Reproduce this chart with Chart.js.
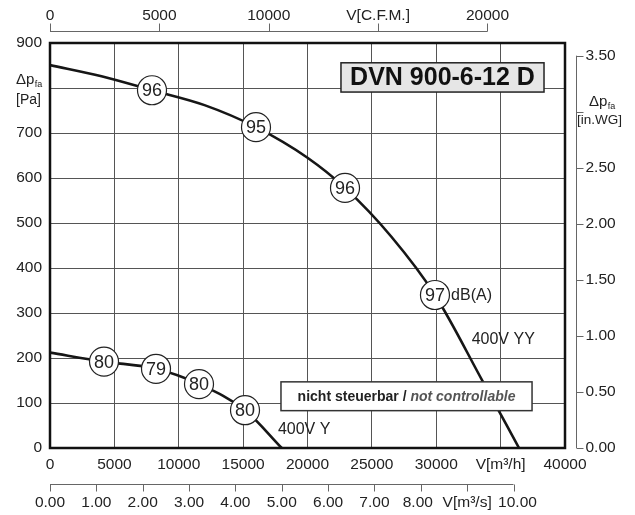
<!DOCTYPE html>
<html>
<head>
<meta charset="utf-8">
<script src="https://cdn.jsdelivr.net/npm/chart.js@4/dist/chart.umd.min.js"></script>
<style>
  html, body { margin: 0; padding: 0; background: #fff; }
  #wrap { width: 635px; height: 515px; }
</style>
</head>
<body>
<div id="wrap"><canvas id="fan" width="635" height="515"></canvas></div>
<script>
// 400V YY curve, flow in m3/h and static pressure in Pa
const yyFlow = [0, 4000, 7922, 12000, 16000, 20000, 22913, 26500, 29900, 33630, 36430];
const yyPressure = [851, 826, 795, 762, 713, 645, 578, 470, 340, 147, 0];
// 400V Y curve
const yFlow = [0, 4194, 8233, 11573, 15146, 18000];
const yPressure = [212, 192, 176, 142, 84, 0];

// sound level markers dB(A)
const yyMarkFlow = [7922, 16000, 22913, 29900];
const yyMarkPressure = [795, 713, 578, 340];
const yyMarkLabels = ['96', '95', '96', '97'];
const yMarkFlow = [4194, 8233, 11573, 15146];
const yMarkPressure = [192, 176, 142, 84];
const yMarkLabels = ['80', '79', '80', '80'];

// secondary axes
const cfmTicks = [0, 5000, 10000, 15000, 20000];
const cfmLabels = ['0', '5000', '10000', 'V[C.F.M.]', '20000'];
const m3sTicks = [0, 1, 2, 3, 4, 5, 6, 7, 8, 9, 10];
const m3sLabels = ['0.00', '1.00', '2.00', '3.00', '4.00', '5.00', '6.00', '7.00', '8.00', 'V[m³/s]', '10.00'];
const inwgTicks = [0, 0.5, 1, 1.5, 2, 2.5, 3, 3.5];
const inwgLabels = ['0.00', '0.50', '1.00', '1.50', '2.00', '2.50', '', '3.50'];

const CFM_TO_M3H = 1.69901;
const INWG_TO_PA = 249.089;
const FONT = '"Liberation Sans", Arial, Helvetica, sans-serif';
const TXT = '#222';

const pts = (xs, ys) => xs.map((v, i) => ({ x: v, y: ys[i] }));

function subLabel(ctx, x, y, main, sub, size) {
    // draws "Δp" with a small subscript, x is left edge
    ctx.textAlign = 'left';
    ctx.textBaseline = 'middle';
    ctx.font = size + 'px ' + FONT;
    ctx.fillText(main, x, y);
    const w = ctx.measureText(main).width;
    ctx.font = (size * 0.6) + 'px ' + FONT;
    ctx.fillText(sub, x + w + 0.5, y + size * 0.3);
}

const overlay = {
    id: 'overlay',
    afterDatasetsDraw(chart) {
        const { ctx, chartArea: a, scales: { x, y } } = chart;
        ctx.save();

        // plot frame
        ctx.strokeStyle = '#111';
        ctx.lineWidth = 2.5;
        ctx.strokeRect(a.left, a.top, a.right - a.left, a.bottom - a.top);

        // numbers inside the circles
        ctx.fillStyle = TXT;
        ctx.font = '18px ' + FONT;
        ctx.textAlign = 'center';
        ctx.textBaseline = 'middle';
        yyMarkFlow.forEach((f, i) => {
            ctx.fillText(yyMarkLabels[i], x.getPixelForValue(f), y.getPixelForValue(yyMarkPressure[i]) + 1);
        });
        yMarkFlow.forEach((f, i) => {
            ctx.fillText(yMarkLabels[i], x.getPixelForValue(f), y.getPixelForValue(yMarkPressure[i]) + 1);
        });

        // curve annotations
        ctx.font = '16px ' + FONT;
        ctx.textAlign = 'left';
        ctx.fillText('dB(A)', x.getPixelForValue(31150), y.getPixelForValue(338));
        ctx.fillText('400V YY', x.getPixelForValue(32750), y.getPixelForValue(242));
        ctx.fillText('400V Y', x.getPixelForValue(17700), y.getPixelForValue(40));

        // type box
        let l = x.getPixelForValue(22600), r = x.getPixelForValue(38370);
        let t = y.getPixelForValue(856), b = y.getPixelForValue(791);
        ctx.fillStyle = '#e6e6e6';
        ctx.fillRect(l, t, r - l, b - t);
        ctx.strokeStyle = '#222';
        ctx.lineWidth = 1.5;
        ctx.strokeRect(l, t, r - l, b - t);
        ctx.fillStyle = '#111';
        ctx.font = 'bold 25px ' + FONT;
        ctx.textAlign = 'center';
        ctx.fillText('DVN 900-6-12 D', (l + r) / 2, (t + b) / 2 + 1);

        // "not controllable" box
        l = x.getPixelForValue(17940); r = x.getPixelForValue(37440);
        t = y.getPixelForValue(147); b = y.getPixelForValue(83);
        ctx.fillStyle = '#fff';
        ctx.fillRect(l, t, r - l, b - t);
        ctx.strokeStyle = '#333';
        ctx.lineWidth = 1.5;
        ctx.strokeRect(l, t, r - l, b - t);
        const part1 = 'nicht steuerbar / ';
        const part2 = 'not controllable';
        ctx.font = 'bold 14px ' + FONT;
        const w1 = ctx.measureText(part1).width;
        ctx.font = 'italic bold 14px ' + FONT;
        const w2 = ctx.measureText(part2).width;
        const sx = (l + r) / 2 - (w1 + w2) / 2;
        ctx.textAlign = 'left';
        ctx.fillStyle = '#222';
        ctx.font = 'bold 14px ' + FONT;
        ctx.fillText(part1, sx, (t + b) / 2 + 1);
        ctx.fillStyle = '#555';
        ctx.font = 'italic bold 14px ' + FONT;
        ctx.fillText(part2, sx + w1, (t + b) / 2 + 1);

        ctx.restore();
    },
    afterDraw(chart) {
        const { ctx, chartArea: a, scales: { x, y } } = chart;
        ctx.save();
        ctx.fillStyle = TXT;
        ctx.strokeStyle = '#666';
        ctx.lineWidth = 1;

        // left axis unit label (in place of 800)
        const y800 = y.getPixelForValue(800);
        ctx.fillStyle = TXT;
        subLabel(ctx, 16, y800 - 8, 'Δp', 'fa', 15);
        ctx.font = '14px ' + FONT;
        ctx.textAlign = 'left';
        ctx.fillText('[Pa]', 16, y800 + 12);

        // top axis, C.F.M.
        const topY = a.top - 11.5;
        const cfmEnd = x.getPixelForValue(cfmTicks[cfmTicks.length - 1] * CFM_TO_M3H);
        ctx.beginPath();
        ctx.moveTo(a.left, topY);
        ctx.lineTo(cfmEnd, topY);
        cfmTicks.forEach(v => {
            const px = Math.round(x.getPixelForValue(v * CFM_TO_M3H)) + 0.5;
            ctx.moveTo(px, topY);
            ctx.lineTo(px, topY - 8);
        });
        ctx.stroke();
        ctx.font = '15.5px ' + FONT;
        ctx.textAlign = 'center';
        ctx.textBaseline = 'middle';
        cfmTicks.forEach((v, i) => {
            ctx.fillText(cfmLabels[i], x.getPixelForValue(v * CFM_TO_M3H), 16);
        });

        // bottom axis, m3/s
        const botY = a.bottom + 36.5;
        ctx.beginPath();
        ctx.moveTo(a.left, botY);
        ctx.lineTo(x.getPixelForValue(m3sTicks[m3sTicks.length - 1] * 3600), botY);
        m3sTicks.forEach(v => {
            const px = Math.round(x.getPixelForValue(v * 3600)) + 0.5;
            ctx.moveTo(px, botY);
            ctx.lineTo(px, botY + 7);
        });
        ctx.stroke();
        m3sTicks.forEach((v, i) => {
            // the labels next to the unit name are nudged apart
            const shift = i === 8 ? -3 : (i === 10 ? 4 : 0);
            ctx.fillText(m3sLabels[i], x.getPixelForValue(v * 3600) + shift, botY + 18);
        });

        // right axis, in.WG
        const rx = a.right + 11.5;
        ctx.beginPath();
        ctx.moveTo(rx, y.getPixelForValue(0));
        ctx.lineTo(rx, y.getPixelForValue(inwgTicks[inwgTicks.length - 1] * INWG_TO_PA));
        inwgTicks.forEach(v => {
            const py = Math.round(y.getPixelForValue(v * INWG_TO_PA)) + 0.5;
            ctx.moveTo(rx, py);
            ctx.lineTo(rx + 7, py);
        });
        ctx.stroke();
        ctx.textAlign = 'left';
        inwgTicks.forEach((v, i) => {
            ctx.fillText(inwgLabels[i], rx + 9, y.getPixelForValue(v * INWG_TO_PA));
        });
        const y3 = y.getPixelForValue(3 * INWG_TO_PA);
        subLabel(ctx, 589, y3 - 10, 'Δp', 'fa', 15);
        ctx.font = '13.5px ' + FONT;
        ctx.textAlign = 'left';
        ctx.fillText('[in.WG]', 577, y3 + 9);

        ctx.restore();
    }
};

const circleStyle = {
    showLine: false,
    pointRadius: 14.5,
    pointHoverRadius: 14.5,
    pointBackgroundColor: '#fff',
    pointBorderColor: '#222',
    pointBorderWidth: 1.2,
    order: 0
};
const curveStyle = {
    borderColor: '#161616',
    borderWidth: 2.6,
    pointRadius: 0,
    fill: false,
    cubicInterpolationMode: 'monotone',
    order: 5
};

new Chart(document.getElementById('fan'), {
    type: 'line',
    data: {
        datasets: [
            { label: 'YY dB', data: pts(yyMarkFlow, yyMarkPressure), ...circleStyle },
            { label: 'Y dB', data: pts(yMarkFlow, yMarkPressure), ...circleStyle },
            { label: '400V YY', data: pts(yyFlow, yyPressure), ...curveStyle },
            { label: '400V Y', data: pts(yFlow, yPressure), ...curveStyle }
        ]
    },
    options: {
        responsive: false,
        animation: false,
        devicePixelRatio: 1,
        layout: { padding: { top: 43, right: 70, left: 0, bottom: 0 } },
        plugins: {
            legend: { display: false },
            tooltip: { enabled: false }
        },
        scales: {
            x: {
                type: 'linear',
                min: 0,
                max: 40000,
                border: { display: false },
                grid: { color: '#555', lineWidth: 1, drawTicks: false },
                ticks: {
                    stepSize: 5000,
                    autoSkip: false,
                    maxRotation: 0,
                    padding: 7,
                    color: TXT,
                    font: { family: FONT, size: 15.5 },
                    callback: v => v === 35000 ? 'V[m³/h]' : String(v)
                },
                afterFit: s => { s.height = 67; }
            },
            y: {
                type: 'linear',
                min: 0,
                max: 900,
                border: { display: false },
                grid: { color: '#555', lineWidth: 1, drawTicks: false },
                ticks: {
                    stepSize: 100,
                    autoSkip: false,
                    padding: 8,
                    color: TXT,
                    font: { family: FONT, size: 15.5 },
                    callback: v => v === 800 ? '' : String(v)
                },
                afterFit: s => { s.width = 50; }
            }
        }
    },
    plugins: [overlay]
});
</script>
</body>
</html>
